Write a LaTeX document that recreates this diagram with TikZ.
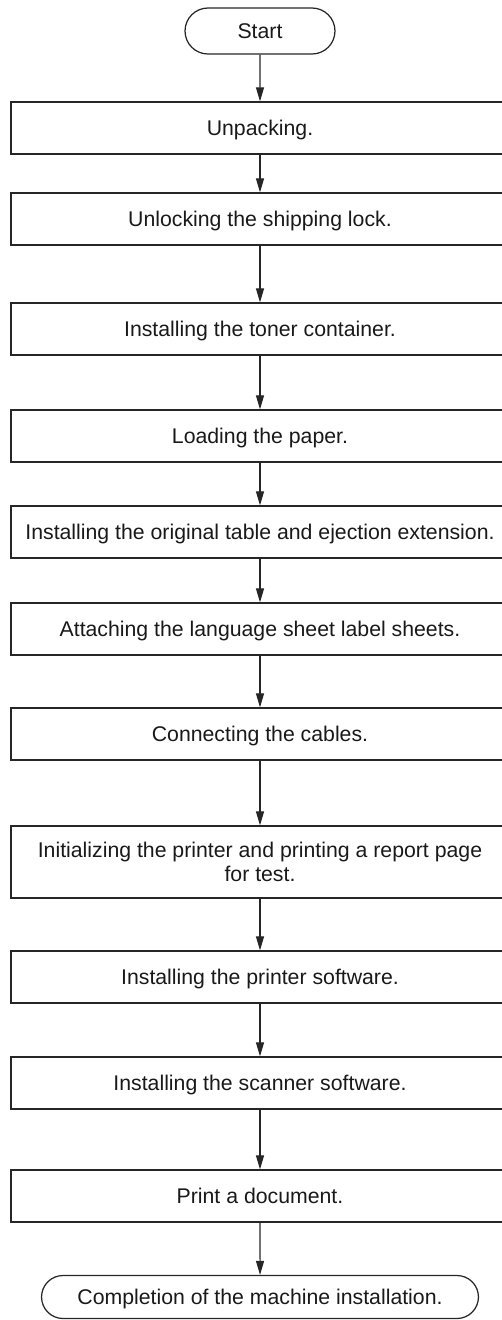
\documentclass[tikz,border=0pt]{standalone}
\usepackage{fontspec}
\setmainfont{Liberation Sans}
\usetikzlibrary{arrows.meta,shapes.misc}

\begin{document}
\begin{tikzpicture}[x=0.02cm,y=-0.02cm,
    font={\fontsize{12.1pt}{14pt}\selectfont},
    stepbox/.style={draw=linecolor,line width=0.7pt,minimum width=9.96cm,
        minimum height=1.04cm,inner sep=0pt,text=textcolor,align=center,
        text height=1.0em,text depth=0.16em},
    endbox/.style={rounded rectangle,draw=linecolor,line width=0.7pt,
        minimum height=0.92cm,inner sep=0pt,text=textcolor,
        text height=1.0em,text depth=0.16em},
    flow/.style={draw=linecolor,line width=0.6pt,
        -{Triangle[length=2.8mm,width=1.6mm]}}]

    \colorlet{linecolor}{black!85}
    \colorlet{textcolor}{black!90}

    \useasboundingbox (0,0) rectangle (501,1320);

    \node[endbox,minimum width=3cm] (start) at (260,31) {Start};

    \node[stepbox] (unpack)  at (260,128) {Unpacking.};
    \node[stepbox] (unlock)  at (260,219) {Unlocking the shipping lock.};
    \node[stepbox] (toner)   at (260,329) {Installing the toner container.};
    \node[stepbox] (paper)   at (260,436) {Loading the paper.};
    \node[stepbox] (table)   at (260,532) {Installing the original table and ejection extension.};
    \node[stepbox] (labels)  at (260,629) {Attaching the language sheet label sheets.};
    \node[stepbox] (cables)  at (260,734) {Connecting the cables.};
    \node[stepbox,minimum height=1.44cm,text height=,text depth=] (init) at (260,862)
        {Initializing the printer and printing a report page\\for test.};
    \node[stepbox] (prnsoft) at (260,977) {Installing the printer software.};
    \node[stepbox] (scnsoft) at (260,1083) {Installing the scanner software.};
    \node[stepbox] (print)   at (260,1196) {Print a document.};

    \node[endbox,minimum width=8.74cm,minimum height=0.86cm] (finish) at (260,1297)
        {Completion of the machine installation.};

    % flow of the steps
    \draw[flow] (start)   -- (unpack);
    \draw[flow] (unpack)  -- (unlock);
    \draw[flow] (unlock)  -- (toner);
    \draw[flow] (toner)   -- (paper);
    \draw[flow] (paper)   -- (table);
    \draw[flow] (table)   -- (labels);
    \draw[flow] (labels)  -- (cables);
    \draw[flow] (cables)  -- (init);
    \draw[flow] (init)    -- (prnsoft);
    \draw[flow] (prnsoft) -- (scnsoft);
    \draw[flow] (scnsoft) -- (print);
    \draw[flow] (print)   -- (finish);

\end{tikzpicture}
\end{document}
